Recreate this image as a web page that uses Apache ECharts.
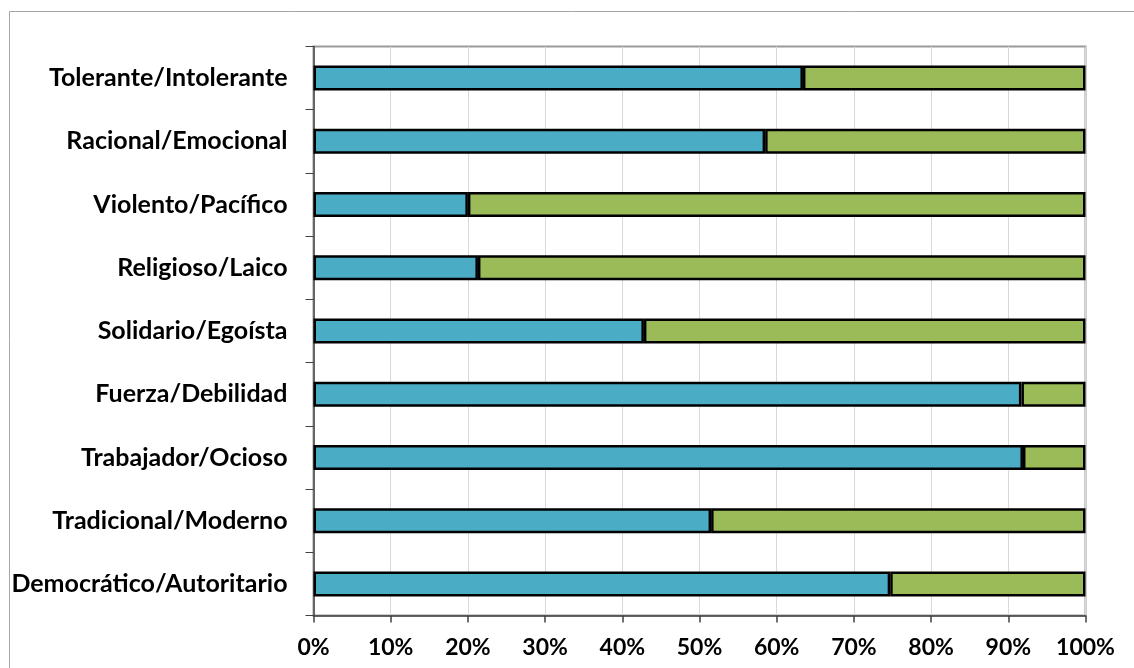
<!DOCTYPE html>
<html>
<head>
<meta charset="utf-8">
<script src="https://cdn.jsdelivr.net/npm/echarts@6/dist/echarts.min.js"></script>
<style>
html,body{margin:0;padding:0;background:#fff;}
#chart{width:1134px;height:668px;}
</style>
</head>
<body>
<div id="chart"></div>
<script>
const categories = ['Tolerante/Intolerante','Racional/Emocional','Violento/Pacífico','Religioso/Laico','Solidario/Egoísta','Fuerza/Debilidad','Trabajador/Ocioso','Tradicional/Moderno','Democrático/Autoritario'];
const firstValues = [63.4, 58.5, 20.0, 21.3, 42.8, 91.7, 91.9, 51.5, 74.7];
const secondValues = firstValues.map(v => +(100 - v).toFixed(1));
const xTicks = [0,10,20,30,40,50,60,70,80,90,100];

const chart = echarts.init(document.getElementById('chart'));
const font = 'Lato, "Open Sans", sans-serif';
chart.setOption({
  animation: false,
  backgroundColor: '#fff',
  graphic: [{
    type: 'rect',
    shape: { x: 9.5, y: 11.5, width: 1200, height: 700 },
    style: { fill: 'none', stroke: '#a6a6a6', lineWidth: 1 },
    silent: true, z: -10
  }],
  grid: {
    left: 313.5, right: 48.5, top: 46.5, bottom: 52.5,
    show: true, borderColor: '#9a9a9a', borderWidth: 2, backgroundColor: 'transparent'
  },
  xAxis: {
    type: 'value', min: 0, max: 100, interval: 10,
    axisLine: { show: true, lineStyle: { color: '#404040', width: 1.5 } },
    axisTick: { show: true, length: 7, lineStyle: { color: '#404040', width: 1.5 }, customValues: xTicks },
    axisLabel: { formatter: '{value}%', color: '#000', fontFamily: font, fontWeight: 'bold', fontSize: 23, margin: 21, customValues: xTicks },
    splitLine: { show: true, lineStyle: { color: '#d9d9d9', width: 1 } }
  },
  yAxis: {
    type: 'category', data: categories, inverse: true,
    axisLine: { show: true, lineStyle: { color: '#404040', width: 1.5 } },
    axisTick: { show: true, length: 8, lineStyle: { color: '#404040', width: 1 } },
    axisLabel: { color: '#000', fontFamily: font, fontWeight: 'bold', fontSize: 25, margin: 26 },
    splitLine: { show: false }
  },
  series: [
    { name: 'A', type: 'bar', stack: 'total', data: firstValues, barWidth: 25,
      itemStyle: { color: '#4BACC6', borderColor: '#000', borderWidth: 2.5 } },
    { name: 'B', type: 'bar', stack: 'total', data: secondValues, barWidth: 25,
      itemStyle: { color: '#9BBB59', borderColor: '#000', borderWidth: 2.5 } }
  ]
});
</script>
</body>
</html>
